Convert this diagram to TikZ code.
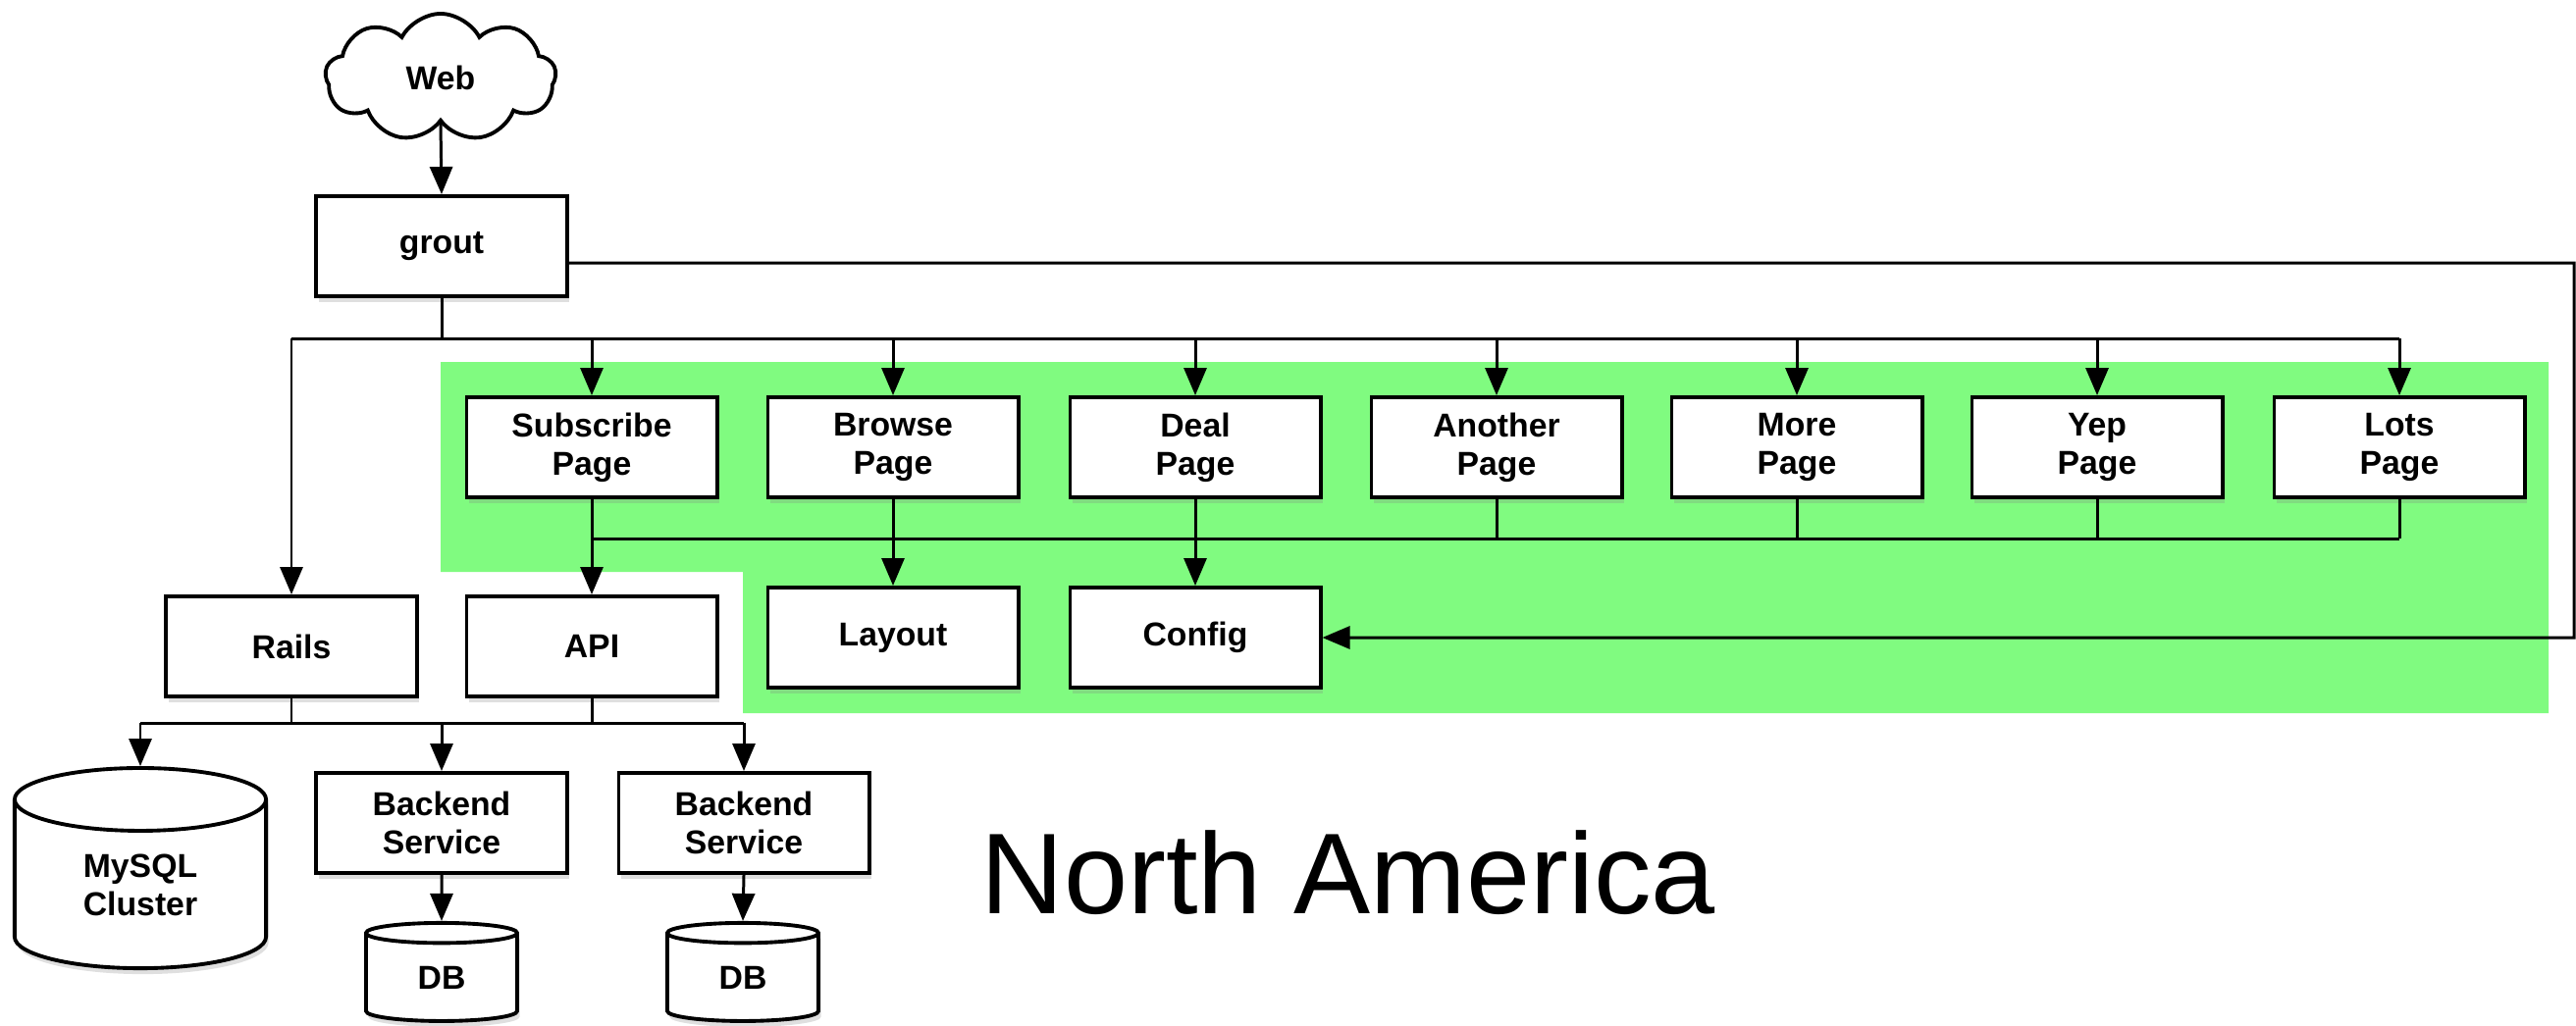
\documentclass[tikz,border=0pt]{standalone}
\usepackage{fontspec}
\setmainfont{Liberation Sans}
\usetikzlibrary{arrows.meta,positioning,shapes.geometric,shapes.symbols,shadows}
\definecolor{pagegreen}{RGB}{128,251,128}
\newcommand{\boxfont}{\fontsize{9.6}{11.1}\selectfont\bfseries}
\newcommand{\regionfont}{\fontsize{33.3}{40}\selectfont}

\begin{document}
\begin{tikzpicture}[x=0.01cm, y=-0.01cm,
  box/.style={draw, line width=1.1pt, fill=white, minimum width=2.55cm, minimum height=1.02cm, inner sep=0pt, align=center, font=\boxfont, drop shadow={shadow xshift=0.025cm, shadow yshift=-0.06cm, opacity=0.25}},
  store/.style={cylinder, shape border rotate=90, draw, line width=1.1pt, fill=white, inner sep=0pt, align=center, font=\boxfont, drop shadow={shadow xshift=0.025cm, shadow yshift=-0.06cm, opacity=0.25}},
  link/.style={line width=0.85pt},
  feed/.style={link, -{Triangle[length=0.28cm, width=0.23cm]}}]
  \useasboundingbox (0,0) rectangle (2625,1045);
  % page area
  \fill[pagegreen] (449,369) -- (2597,369) -- (2597,727) -- (757,727) -- (757,583) -- (449,583) -- cycle;

  \node[cloud, draw, line width=1.1pt, fill=white, cloud puffs=9, cloud puff arc=125, aspect=1.8, minimum width=2.35cm, minimum height=1.3cm, font=\boxfont] (web) at (449,79) {Web};
  \node[box] (grout) at (450,251) {grout};

  \node[box] (subscribe) at (603,456) {Subscribe\\Page};
  \node[box] (browse) at (910,456) {Browse\\Page};
  \node[box] (deal) at (1218,456) {Deal\\Page};
  \node[box] (another) at (1525,456) {Another\\Page};
  \node[box] (more) at (1831,456) {More\\Page};
  \node[box] (yep) at (2137,456) {Yep\\Page};
  \node[box] (lots) at (2445,456) {Lots\\Page};

  \node[box] (rails) at (297,659) {Rails};
  \node[box] (api) at (603,659) {API};
  \node[box] (layout) at (910,650) {Layout};
  \node[box] (config) at (1218,650) {Config};

  \node[store, minimum width=2.56cm, minimum height=2.04cm, shape aspect=0.55] (mysql) at (143,902) {MySQL\\Cluster};
  \node[box] (backend1) at (450,839) {Backend\\Service};
  \node[box] (backend2) at (758,839) {Backend\\Service};
  \node[store, minimum width=1.54cm, minimum height=1.0cm, shape aspect=0.42] (db1) at (450,997) {DB};
  \node[store, minimum width=1.54cm, minimum height=1.0cm, shape aspect=0.42] (db2) at (757,997) {DB};

  \node[font=\regionfont, anchor=base west, inner sep=0pt] (region) at (999,931) {North America};

  \coordinate (topbus) at (0,345);
  \coordinate (pagebus) at (0,549);
  \coordinate (lowbus) at (0,737);
  \coordinate (loopturn) at (2623,268);

  % web -> grout -> pages
  \draw[feed] (web.south) -- (grout.north);
  \draw[link] (grout.south) -- (grout.south |- topbus);
  \draw[link] (rails.north |- topbus) -- (lots.north |- topbus);
  \draw[feed] (rails.north |- topbus) -- (rails.north);
  \draw[feed] (subscribe.north |- topbus) -- (subscribe.north);
  \draw[feed] (browse.north |- topbus) -- (browse.north);
  \draw[feed] (deal.north |- topbus) -- (deal.north);
  \draw[feed] (another.north |- topbus) -- (another.north);
  \draw[feed] (more.north |- topbus) -- (more.north);
  \draw[feed] (yep.north |- topbus) -- (yep.north);
  \draw[feed] (lots.north |- topbus) -- (lots.north);
  \draw[feed] ([yshift=-0.17cm]grout.east) -- (loopturn) |- (config.east);

  % pages -> shared parts
  \draw[link] (subscribe.south |- pagebus) -- (lots.south |- pagebus);
  \draw[feed] (subscribe.south) -- (api.north);
  \draw[feed] (browse.south) -- (layout.north);
  \draw[feed] (deal.south) -- (config.north);
  \draw[link] (another.south) -- (another.south |- pagebus);
  \draw[link] (more.south) -- (more.south |- pagebus);
  \draw[link] (yep.south) -- (yep.south |- pagebus);
  \draw[link] (lots.south) -- (lots.south |- pagebus);

  % backends
  \draw[link] (rails.south) -- (rails.south |- lowbus);
  \draw[link] (api.south) -- (api.south |- lowbus);
  \draw[link] (mysql.north |- lowbus) -- (backend2.north |- lowbus);
  \draw[feed] (mysql.north |- lowbus) -- (mysql.north);
  \draw[feed] (backend1.north |- lowbus) -- (backend1.north);
  \draw[feed] (backend2.north |- lowbus) -- (backend2.north);
  \draw[feed] (backend1.south) -- (db1.north);
  \draw[feed] (backend2.south) -- (db2.north);
\end{tikzpicture}
\end{document}
